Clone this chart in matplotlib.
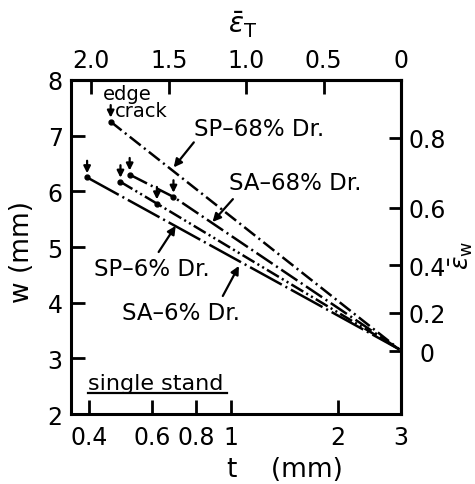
import numpy as np
import matplotlib
matplotlib.use("Agg")
import matplotlib.pyplot as plt
from matplotlib.ticker import NullLocator, FixedLocator

plt.rcParams['font.family'] = ['DejaVu Sans']
plt.rcParams['lines.scale_dashes'] = False
plt.rcParams['mathtext.fontset'] = 'dejavusans'
plt.rcParams['xtick.direction'] = 'in'
plt.rcParams['ytick.direction'] = 'in'

# thickness t (mm) vs width w (mm), one line per rolling condition
t_sp68 = [0.46, 2.97]
w_sp68 = [7.25, 3.16]
t_sa68 = [0.52, 0.69, 2.97]
w_sa68 = [6.30, 5.90, 3.16]
t_sp6 = [0.49, 0.62, 2.97]
w_sp6 = [6.17, 5.78, 3.16]
t_sa6 = [0.395, 2.97]
w_sa6 = [6.25, 3.16]

# edge crack onsets (arrowed points)
t_crack = [0.46, 0.52, 0.69, 0.49, 0.62, 0.395]
w_crack = [7.25, 6.30, 5.90, 6.17, 5.78, 6.25]

t0 = 3.0      # initial thickness
w0 = 3.13     # initial width

x_ticks = [0.4, 0.6, 0.8, 1, 2, 3]
x_ticklabels = ["0.4", "0.6", "0.8", "1", "2", "3"]
y_ticks = [2, 3, 4, 5, 6, 7, 8]
eps_t_ticks = [0, 0.5, 1.0, 1.5, 2.0]
eps_t_labels = ["0", "0.5", "1.0", "1.5", "2.0"]
eps_w_ticks = [0, 0.2, 0.4, 0.6, 0.8]
eps_w_labels = ["0", "0.2", "0.4", "0.6", "0.8"]

fig = plt.figure(figsize=(4.75, 4.85), dpi=100)
ax = fig.add_axes([0.1495, 0.1443, 0.6947, 0.6887])

lw = 1.8
ax.plot(t_sp68, w_sp68, color='black', lw=lw, ls=(0, (10, 3, 1.5, 3)))
ax.plot(t_sa68, w_sa68, color='black', lw=lw, ls=(0, (14, 3, 1.5, 3)))
ax.plot(t_sp6, w_sp6, color='black', lw=lw, ls=(0, (10, 2.5, 1.5, 2.5, 1.5, 2.5)))
ax.plot(t_sa6, w_sa6, color='black', lw=lw, ls=(0, (26, 3, 1.5, 3)))

ax.plot(t_crack, w_crack, 'o', color='black', ms=3.5, ls='none')
for tc, wc in zip(t_crack, w_crack):
    ax.annotate('', xy=(tc, wc), xytext=(0, 12), textcoords='offset points',
                arrowprops=dict(arrowstyle='-|>', color='black', lw=1.6,
                                mutation_scale=10, shrinkA=0, shrinkB=3))

ax.set_xscale('log')
ax.set_xlim(0.356, 3.0)
ax.set_ylim(2, 8)
ax.xaxis.set_major_locator(FixedLocator(x_ticks))
ax.xaxis.set_minor_locator(NullLocator())
ax.set_xticklabels(x_ticklabels)
ax.set_yticks(y_ticks)

ax.tick_params(axis='both', which='both', direction='in', length=10, width=2,
               labelsize=17)
ax.tick_params(axis='x', pad=8)
ax.tick_params(axis='y', pad=6)
for s in ax.spines.values():
    s.set_linewidth(2.2)

# top axis: true thickness strain
with np.errstate(divide='ignore', invalid='ignore'):
    secx = ax.secondary_xaxis('top', functions=(lambda t: np.log(t0 / t),
                                                lambda e: t0 * np.exp(-e)))
secx.xaxis.set_major_locator(FixedLocator(eps_t_ticks))
secx.xaxis.set_minor_locator(NullLocator())
secx.set_xticklabels(eps_t_labels)
secx.tick_params(direction='in', length=10, width=2, labelsize=17, pad=6)
secx.spines['top'].set_linewidth(2.2)

# right axis: true width strain
secy = ax.secondary_yaxis('right', functions=(lambda w: np.log(w / w0),
                                              lambda e: w0 * np.exp(e)))
secy.yaxis.set_major_locator(FixedLocator(eps_w_ticks))
secy.yaxis.set_minor_locator(NullLocator())
secy.set_yticklabels(eps_w_labels)
secy.tick_params(direction='in', length=9, width=2, labelsize=17, pad=19)
for lab in secy.get_yticklabels():
    lab.set_ha('center')
secy.spines['right'].set_linewidth(2.2)

# axis titles
fig.text(22 / 475, 1 - 252 / 485, 'w (mm)', rotation=90, fontsize=19,
         ha='center', va='center')
fig.text(227 / 475, 1 - 470 / 485, 't    (mm)', fontsize=19, ha='left', va='center')
fig.text(243 / 475, 1 - 25 / 485, r'$\bar{\epsilon}_{\mathrm{T}}$', fontsize=20,
         ha='center', va='center')
fig.text(461 / 475, 1 - 255 / 485, r'$\bar{\epsilon}_{\mathrm{w}}$', fontsize=18,
         rotation=90, ha='center', va='center')

# curve labels with arrows
arrow = dict(arrowstyle='-|>', color='black', lw=1.6, mutation_scale=12,
             shrinkA=0, shrinkB=0)
lab_fs = 16.5
ax.text(1.20, 7.13, 'SP–68% Dr.', fontsize=lab_fs, ha='center', va='center')
ax.annotate('', xy=(0.691, 6.43), xytext=(0.787, 6.88), arrowprops=arrow)
ax.text(1.52, 6.15, 'SA–68% Dr.', fontsize=lab_fs, ha='center', va='center')
ax.annotate('', xy=(0.888, 5.45), xytext=(1.013, 5.86), arrowprops=arrow)
ax.text(0.60, 4.62, 'SP–6% Dr.', fontsize=lab_fs, ha='center', va='center')
ax.annotate('', xy=(0.700, 5.38), xytext=(0.627, 4.91), arrowprops=arrow)
ax.text(0.723, 3.83, 'SA–6% Dr.', fontsize=lab_fs, ha='center', va='center')
ax.annotate('', xy=(1.053, 4.66), xytext=(0.949, 4.12), arrowprops=arrow)

ax.text(0.438, 7.76, 'edge', fontsize=14, ha='left', va='center')
ax.text(0.474, 7.46, 'crack', fontsize=14, ha='left', va='center')

ax.text(0.051, 0.075, 'single stand', fontsize=16, ha='left', va='baseline',
        transform=ax.transAxes)
ax.plot([0.051, 0.472], [0.063, 0.063], color='black', lw=1.6,
        transform=ax.transAxes, clip_on=False)

fig.savefig('out.png', dpi=100)
